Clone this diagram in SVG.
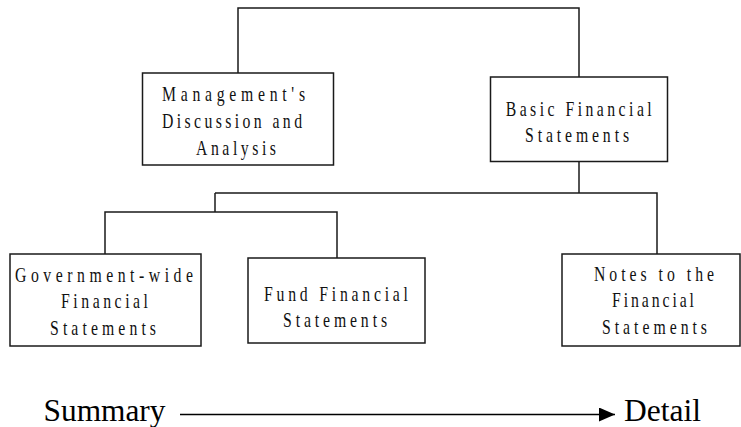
<svg xmlns="http://www.w3.org/2000/svg" width="741" height="427" viewBox="0 0 741 427">
<style>
.box{fill:#fff;stroke:#1a1a1a;stroke-width:1.5}
.ln{fill:none;stroke:#1a1a1a;stroke-width:1.5}
.t{font-family:"Liberation Serif","Times New Roman",serif;font-size:21px;fill:#111;text-anchor:middle}
.big{font-family:"Liberation Serif","Times New Roman",serif;font-size:32px;fill:#000}
</style>
<defs>
<marker id="arr" viewBox="0 0 16 14" refX="16" refY="7" markerWidth="16" markerHeight="14" markerUnits="userSpaceOnUse" orient="auto">
<path d="M0,0 L16,7 L0,14 Z" fill="#000"/>
</marker>
</defs>
<g id="connectors">
<path class="ln" d="M238,73 V8 H579 V77"/>
<path class="ln" d="M579,161 V193"/>
<path class="ln" d="M215,193 H657 V254"/>
<path class="ln" d="M215,193 V212"/>
<path class="ln" d="M105,254 V212 H337 V258"/>
<line x1="180" y1="414.5" x2="615" y2="414.5" stroke="#000" stroke-width="1.5" marker-end="url(#arr)"/>
</g>
<g id="mda">
<rect class="box" x="142.5" y="73" width="191" height="92"/>
<text class="t" transform="translate(233.5,101) scale(0.75,1)" textLength="190.7" lengthAdjust="spacing">Management's</text>
<text class="t" transform="translate(232,128) scale(0.75,1)" textLength="186.7" lengthAdjust="spacing">Discussion and</text>
<text class="t" transform="translate(236,155) scale(0.75,1)" textLength="106.7" lengthAdjust="spacing">Analysis</text>
</g>
<g id="basic">
<rect class="box" x="490.5" y="77" width="177" height="84.5"/>
<text class="t" transform="translate(578.7,116) scale(0.75,1)" textLength="194.7" lengthAdjust="spacing">Basic Financial</text>
<text class="t" transform="translate(577,141.5) scale(0.75,1)" textLength="138.7" lengthAdjust="spacing">Statements</text>
</g>
<g id="govwide">
<rect class="box" x="10" y="254" width="191" height="92"/>
<text class="t" transform="translate(104,282) scale(0.75,1)" textLength="237.3" lengthAdjust="spacing">Government-wide</text>
<text class="t" transform="translate(104.5,308) scale(0.75,1)" textLength="116" lengthAdjust="spacing">Financial</text>
<text class="t" transform="translate(103,335) scale(0.75,1)" textLength="141.3" lengthAdjust="spacing">Statements</text>
</g>
<g id="fund">
<rect class="box" x="248" y="258" width="177" height="85"/>
<text class="t" transform="translate(336,301) scale(0.75,1)" textLength="192" lengthAdjust="spacing">Fund Financial</text>
<text class="t" transform="translate(335,326.5) scale(0.75,1)" textLength="138.7" lengthAdjust="spacing">Statements</text>
</g>
<g id="notes">
<rect class="box" x="562" y="254" width="178" height="92"/>
<text class="t" transform="translate(654,281) scale(0.75,1)" textLength="160" lengthAdjust="spacing">Notes to the</text>
<text class="t" transform="translate(653,307) scale(0.75,1)" textLength="109.3" lengthAdjust="spacing">Financial</text>
<text class="t" transform="translate(654.5,334) scale(0.75,1)" textLength="140" lengthAdjust="spacing">Statements</text>
</g>
<g id="scale">
<text class="big" x="43.5" y="421" textLength="122" lengthAdjust="spacingAndGlyphs">Summary</text>
<text class="big" x="624" y="421" textLength="77" lengthAdjust="spacingAndGlyphs">Detail</text>
</g>
</svg>
